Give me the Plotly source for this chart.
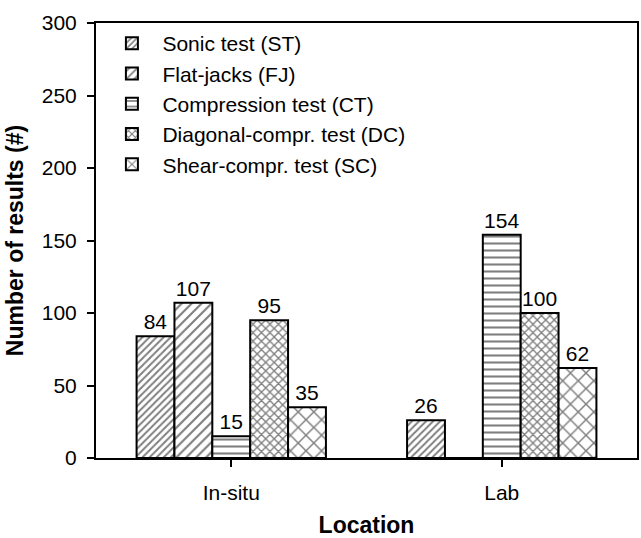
import plotly.graph_objects as go

locations = ["In-situ", "Lab"]
series_names = ["Sonic test (ST)", "Flat-jacks (FJ)", "Compression test (CT)",
                "Diagonal-compr. test (DC)", "Shear-compr. test (SC)"]
values = {
    "Sonic test (ST)": [84, 26],
    "Flat-jacks (FJ)": [107, 0],
    "Compression test (CT)": [15, 154],
    "Diagonal-compr. test (DC)": [95, 100],
    "Shear-compr. test (SC)": [35, 62],
}
patterns = {
    "Sonic test (ST)": dict(shape="/", size=5, solidity=0.4),
    "Flat-jacks (FJ)": dict(shape="/", size=7, solidity=0.3),
    "Compression test (CT)": dict(shape="-", size=7, solidity=0.3),
    "Diagonal-compr. test (DC)": dict(shape="x", size=6, solidity=0.4),
    "Shear-compr. test (SC)": dict(shape="x", size=11, solidity=0.25),
}

FONT = "Liberation Sans, Arial, sans-serif"
fig = go.Figure()
for name in series_names:
    vals = values[name]
    p = patterns[name]
    fig.add_trace(go.Bar(
        name=name, x=locations, y=vals,
        text=[str(v) if v else "" for v in vals],
        textposition="outside", cliponaxis=False,
        textfont=dict(family=FONT, size=21, color="black"),
        marker=dict(color="white", line=dict(color="black", width=2),
                    pattern=dict(shape=p["shape"], size=p["size"], solidity=p["solidity"],
                                 fgcolor="black", bgcolor="white", fillmode="overlay")),
    ))

fig.update_layout(
    width=641, height=538,
    margin=dict(l=96, r=2, t=23, b=74),
    paper_bgcolor="white", plot_bgcolor="white",
    barmode="group", bargap=0.3, bargroupgap=0,
    font=dict(family=FONT, size=21, color="black"),
    showlegend=True,
    legend=dict(x=0.01, y=1.0, xanchor="left", yanchor="top",
                borderwidth=0, bgcolor="rgba(0,0,0,0)",
                font=dict(family=FONT, size=21, color="black"),
                tracegroupgap=0, itemwidth=51),
    xaxis=dict(range=[-0.5, 1.5], showline=True, linecolor="black", linewidth=2,
               mirror=True, ticks="outside", ticklen=7, tickwidth=1.5, tickcolor="black",
               ticklabelstandoff=8,
               tickfont=dict(family=FONT, size=21),
               title=dict(text="<b>Location</b>", font=dict(family=FONT, size=23), standoff=16)),
    yaxis=dict(range=[0, 300], dtick=50, showline=True, linecolor="black", linewidth=2,
               mirror=True, ticks="outside", ticklen=7, tickwidth=1.5, tickcolor="black",
               ticklabelstandoff=6,
               showgrid=False, zeroline=False,
               tickfont=dict(family=FONT, size=21),
               title=dict(text="<b>Number of results (#)</b>", font=dict(family=FONT, size=23), standoff=12)),
)
fig.write_html("out.html")
